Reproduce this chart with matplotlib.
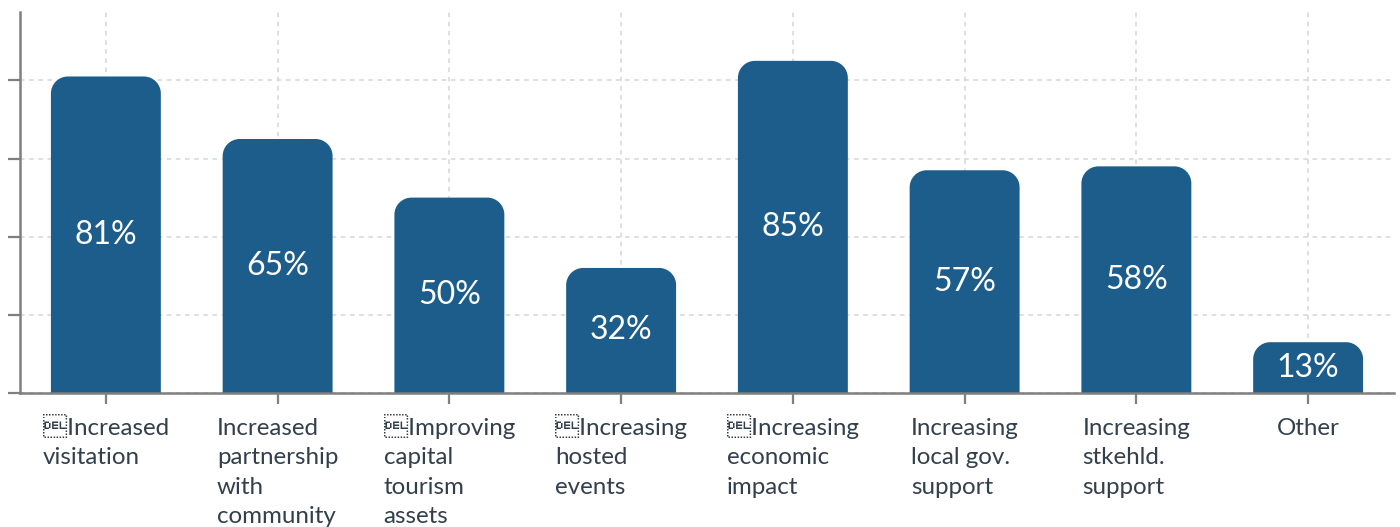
import matplotlib
matplotlib.use("Agg")
import matplotlib.pyplot as plt
from matplotlib.path import Path
from matplotlib.patches import PathPatch
from matplotlib.font_manager import FontProperties

categories = [
    "\x7fIncreased\nvisitation",
    "Increased\npartnership\nwith\ncommunity",
    "\x7fImproving\ncapital\ntourism\nassets",
    "\x7fIncreasing\nhosted\nevents",
    "\x7fIncreasing\neconomic\nimpact",
    "Increasing\nlocal gov.\nsupport",
    "Increasing\nstkehld.\nsupport",
    "Other",
]
values = [81, 65, 50, 32, 85, 57, 58, 13]
yticks = [0, 20, 40, 60, 80]

BAR_COLOR = "#1d5d8b"
TEXT_COLOR = "#333f4c"
AXIS_COLOR = "#7f7f7f"
GRID_COLOR = "#d6d6d6"
FAMILIES = ["Lato", "Unifont", "DejaVu Sans"]

plt.rcParams["font.family"] = FAMILIES

W, H, DPI = 1400, 527, 100
fig = plt.figure(figsize=(W / DPI, H / DPI), dpi=DPI)
ax = fig.add_axes([20 / W, (H - 393) / H, (1394 - 20) / W, (393 - 12) / H])

x = list(range(len(values)))
bars = ax.bar(x, values, width=0.64, color=BAR_COLOR, zorder=3)
ax.set_xlim(-0.5, len(values) - 0.5)
ax.set_ylim(0, 97.5)

# rounded top corners: radius in pixels converted to data units
fig.canvas.draw()
renderer = fig.canvas.get_renderer()
px_per_x = ax.bbox.width / (ax.get_xlim()[1] - ax.get_xlim()[0])
px_per_y = ax.bbox.height / (ax.get_ylim()[1] - ax.get_ylim()[0])
r_px = 17
rx, ry = r_px / px_per_x, r_px / px_per_y
k = 0.5523
for b in bars:
    x0, w, h = b.get_x(), b.get_width(), b.get_height()
    x1 = x0 + w
    ryy = min(ry, h)
    verts = [
        (x0, 0), (x0, h - ryy),
        (x0, h - ryy + k * ryy), (x0 + rx - k * rx, h), (x0 + rx, h),
        (x1 - rx, h),
        (x1 - rx + k * rx, h), (x1, h - ryy + k * ryy), (x1, h - ryy),
        (x1, 0), (x0, 0),
    ]
    codes = [Path.MOVETO, Path.LINETO,
             Path.CURVE4, Path.CURVE4, Path.CURVE4,
             Path.LINETO,
             Path.CURVE4, Path.CURVE4, Path.CURVE4,
             Path.LINETO, Path.CLOSEPOLY]
    ax.add_patch(PathPatch(Path(verts, codes), facecolor=BAR_COLOR,
                           edgecolor="none", zorder=3))
    b.set_visible(False)
    ax.text(b.get_x() + w / 2, h / 2, f"{int(h)}%", ha="center", va="center",
            color="white", fontsize=23, fontweight="normal", zorder=4)

ax.set_yticks(yticks)
ax.set_yticklabels([])
ax.set_xticks(x)
ax.set_xticklabels([])

# category labels: first baseline at a fixed distance below the axis
label_size = 17.4
prop = FontProperties(family=FAMILIES, size=label_size)
lp_w, lp_h, lp_d = renderer.get_text_width_height_descent("lp", prop, ismath=False)
baseline_px = 42
for xi, label in zip(x, categories):
    first = label.split("\n")[0]
    _, fh, fd = renderer.get_text_width_height_descent(first, prop, ismath=False)
    asc = max(fh, lp_h) - max(fd, lp_d)
    off_pts = (baseline_px - asc) * 72 / DPI
    ax.annotate(label, xy=(xi, 0), xycoords=("data", "axes fraction"),
                xytext=(0, -off_pts), textcoords="offset points",
                ha="center", va="top", multialignment="left",
                linespacing=1.49, fontsize=label_size, color=TEXT_COLOR,
                annotation_clip=False)

ax.grid(True, color=GRID_COLOR, linestyle=(0, (3, 3)), linewidth=1.1, zorder=0)
for s in ["top", "right"]:
    ax.spines[s].set_visible(False)
for s in ["left", "bottom"]:
    ax.spines[s].set_color(AXIS_COLOR)
    ax.spines[s].set_linewidth(1.8)
    ax.spines[s].set_zorder(5)
ax.tick_params(axis="y", length=9, width=1.6, color=AXIS_COLOR, direction="out")
ax.tick_params(axis="x", length=8, width=1.6, color=AXIS_COLOR, direction="out")

fig.savefig("out.png", dpi=DPI)
